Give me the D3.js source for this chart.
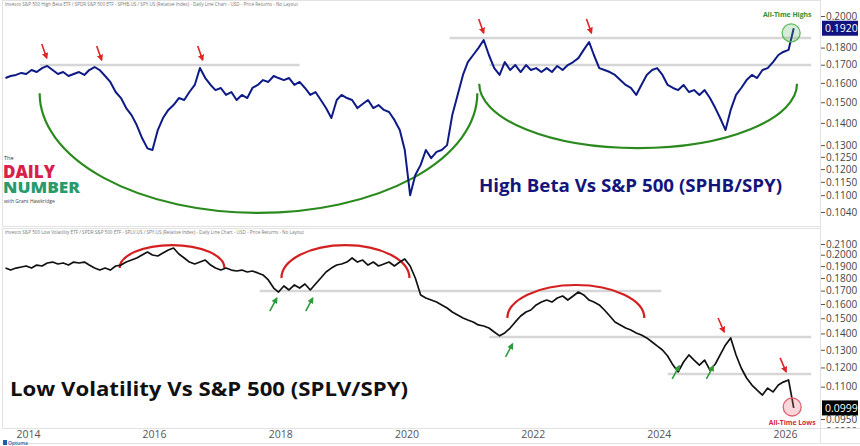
<!DOCTYPE html>
<html><head><meta charset="utf-8">
<script src="https://cdn.jsdelivr.net/npm/d3@7"></script>
<style>body{margin:0;background:#fff}svg{display:block;font-family:"Open Sans",sans-serif}</style>
</head><body><svg id="c" width="860" height="446"></svg>
<script>
// ---------- DATA ----------
const months = [
 "2013-11","2013-12",
 "2014-01","2014-02","2014-03","2014-04","2014-05","2014-06","2014-07","2014-08","2014-09","2014-10","2014-11","2014-12",
 "2015-01","2015-02","2015-03","2015-04","2015-05","2015-06","2015-07","2015-08","2015-09","2015-10","2015-11","2015-12",
 "2016-01","2016-02","2016-03","2016-04","2016-05","2016-06","2016-07","2016-08","2016-09","2016-10","2016-11","2016-12",
 "2017-01","2017-02","2017-03","2017-04","2017-05","2017-06","2017-07","2017-08","2017-09","2017-10","2017-11","2017-12",
 "2018-01","2018-02","2018-03","2018-04","2018-05","2018-06","2018-07","2018-08","2018-09","2018-10","2018-11","2018-12",
 "2019-01","2019-02","2019-03","2019-04","2019-05","2019-06","2019-07","2019-08","2019-09","2019-10","2019-11","2019-12",
 "2020-01","2020-02","2020-03","2020-04","2020-05","2020-06","2020-07","2020-08","2020-09","2020-10","2020-11","2020-12",
 "2021-01","2021-02","2021-03","2021-04","2021-05","2021-06","2021-07","2021-08","2021-09","2021-10","2021-11","2021-12",
 "2022-01","2022-02","2022-03","2022-04","2022-05","2022-06","2022-07","2022-08","2022-09","2022-10","2022-11","2022-12",
 "2023-01","2023-02","2023-03","2023-04","2023-05","2023-06","2023-07","2023-08","2023-09","2023-10","2023-11","2023-12",
 "2024-01","2024-02","2024-03","2024-04","2024-05","2024-06","2024-07","2024-08","2024-09","2024-10","2024-11","2024-12",
 "2025-01","2025-02","2025-03","2025-04","2025-05","2025-06","2025-07","2025-08","2025-09","2025-10","2025-11","2025-12",
 "2026-01","2026-02","2026-03","2026-04","2026-05"
];
// SPHB / SPY relative
const highBeta = [
 0.1626,0.1637,
 0.1643,0.1654,0.1648,0.1670,0.1659,0.1681,0.1693,0.1670,0.1648,0.1659,0.1637,0.1648,
 0.1659,0.1643,0.1670,0.1687,0.1670,0.1637,0.1605,0.1552,0.1521,0.1471,0.1437,0.1390,
 0.1331,0.1286,0.1279,0.1367,0.1423,0.1462,0.1486,0.1521,0.1511,0.1552,0.1589,0.1681,
 0.1626,0.1589,0.1562,0.1573,0.1537,0.1552,0.1511,0.1537,0.1521,0.1573,0.1589,0.1615,
 0.1605,0.1637,0.1626,0.1615,0.1626,0.1589,0.1605,0.1573,0.1537,0.1552,0.1511,0.1471,
 0.1423,0.1511,0.1537,0.1521,0.1511,0.1471,0.1491,0.1511,0.1471,0.1486,0.1462,0.1452,
 0.1414,0.1367,0.1279,0.1100,0.1177,0.1217,0.1279,0.1245,0.1271,0.1279,0.1300,0.1437,
 0.1537,0.1643,0.1715,0.1756,0.1797,0.1846,0.1756,0.1681,0.1643,0.1715,0.1670,0.1698,
 0.1659,0.1698,0.1670,0.1681,0.1659,0.1681,0.1659,0.1693,0.1670,0.1698,0.1715,0.1738,
 0.1786,0.1834,0.1756,0.1681,0.1670,0.1659,0.1643,0.1615,0.1589,0.1573,0.1537,0.1589,
 0.1643,0.1670,0.1681,0.1643,0.1589,0.1573,0.1562,0.1589,0.1552,0.1562,0.1537,0.1562,
 0.1521,0.1471,0.1423,0.1367,0.1462,0.1537,0.1573,0.1615,0.1643,0.1626,0.1670,0.1681,
 0.1715,0.1756,0.1774,0.1786,0.1920
];
// SPLV / SPY relative
const lowVol = [
 0.1883,0.1866,
 0.1883,0.1892,0.1901,0.1883,0.1909,0.1901,0.1927,0.1935,0.1918,0.1927,0.1909,0.1935,
 0.1927,0.1935,0.1909,0.1883,0.1866,0.1883,0.1866,0.1901,0.1909,0.1935,0.1953,0.1971,
 0.1998,0.2025,0.1998,0.1989,0.2016,0.2044,0.2062,0.2007,0.1971,0.1935,0.1918,0.1935,
 0.1953,0.1909,0.1883,0.1866,0.1883,0.1866,0.1858,0.1866,0.1850,0.1858,0.1842,0.1825,
 0.1784,0.1720,0.1689,0.1736,0.1705,0.1744,0.1720,0.1752,0.1705,0.1752,0.1800,0.1850,
 0.1883,0.1909,0.1918,0.1935,0.1971,0.1935,0.1953,0.1909,0.1935,0.1901,0.1918,0.1935,
 0.1901,0.1935,0.1962,0.1901,0.1800,0.1667,0.1644,0.1629,0.1614,0.1593,0.1571,0.1543,
 0.1522,0.1502,0.1488,0.1475,0.1455,0.1448,0.1435,0.1409,0.1385,0.1403,0.1435,0.1475,
 0.1515,0.1543,0.1557,0.1593,0.1614,0.1629,0.1614,0.1644,0.1659,0.1629,0.1659,0.1689,
 0.1667,0.1629,0.1614,0.1593,0.1557,0.1515,0.1475,0.1455,0.1435,0.1422,0.1403,0.1390,
 0.1372,0.1347,0.1323,0.1299,0.1264,0.1213,0.1176,0.1230,0.1270,0.1241,0.1213,0.1241,
 0.1186,0.1219,0.1270,0.1329,0.1372,0.1270,0.1197,0.1144,0.1108,0.1083,0.1059,0.1093,
 0.1074,0.1108,0.1123,0.1134,0.0999
];
const yearTicks = ["2014","2016","2018","2020","2022","2024","2026"];
const topTicks = [0.2,0.18,0.17,0.16,0.15,0.14,0.13,0.125,0.12,0.115,0.11,0.104];
const botTicks = [0.21,0.2,0.19,0.18,0.17,0.16,0.15,0.14,0.13,0.12,0.11,0.095,0.09];
const topLast = 0.1920, botLast = 0.0999;

// annotations (anchored in data space)
const topLevels = [["2020-11-15","2026-08-10",0.1858],["2014-05-18","2018-07-01",0.1698],["2021-07-04","2026-08-10",0.1698]];
const botLevels = [["2017-11-12","2024-03-25",0.1697],["2021-07-04","2026-08-10",0.1378],["2024-05-01","2026-08-10",0.1165]];
const topArcs = [["2014-05-18","2021-04-25",0.1545,0.1037],["2021-05-06","2026-05-20",0.1595,0.1287]];
const botArcs = [["2015-08-24","2017-04-22",0.1883,0.2090],["2018-03-18","2020-03-28",0.1800,0.2090],["2021-10-16","2023-12-18",0.1502,0.1744]];
const topArrows = [["2014-06-28",0.1738],["2015-05-12",0.1727],["2016-12-17",0.1727],["2021-06-01",0.1890],["2023-02-15",0.1890]];
const botGreenArrows = [["2018-02-19",0.1644],["2018-09-15",0.1644],["2021-11-15",0.1335],["2024-07-07",0.1208],["2025-01-21",0.1208]];
const botRedArrows = [["2025-03-24",0.1409],["2026-03-18",0.1176]];
const topCircle = ["2026-04-16",0.1890], botCircle = ["2026-04-22",0.1003];

// ---------- CHART ----------
const svg = d3.select("#c");
const pm = d3.utcParse("%Y-%m"), pd = d3.utcParse("%Y-%m-%d"), py = d3.utcParse("%Y");
const plotR = 820;
const x = d3.scaleUtc().domain([py("2014"), py("2026")]).range([16, 773]);
const yTop = d3.scaleLog().domain([0.104, 0.2]).range([212, 16]);
const yBot = d3.scaleLog().domain([0.095, 0.21]).range([419, 244]);

const defs = svg.append("defs");
defs.append("clipPath").attr("id","ct").append("rect").attr("x",3).attr("y",10).attr("width",plotR-3).attr("height",216);
defs.append("clipPath").attr("id","cb").append("rect").attr("x",3).attr("y",238).attr("width",plotR-3).attr("height",190);
defs.append("clipPath").attr("id","cab").append("rect").attr("x",plotR).attr("y",236).attr("width",40).attr("height",192);
function marker(id, col){
  defs.append("marker").attr("id",id).attr("viewBox","0 0 10 10").attr("refX",8).attr("refY",5)
    .attr("markerWidth",4).attr("markerHeight",4).attr("orient","auto")
    .append("path").attr("d","M0,0L10,5L0,10z").attr("fill",col);
}
marker("mr","#e02424"); marker("mg","#2e9a3a");

// frames
const fc = "#e2e2e2";
svg.append("rect").attr("x",2.5).attr("y",0.5).attr("width",plotR-2).attr("height",226).attr("fill","none").attr("stroke",fc);
svg.append("rect").attr("x",2.5).attr("y",228.5).attr("width",plotR-2).attr("height",200).attr("fill","none").attr("stroke",fc);
svg.append("line").attr("x1",2.5).attr("x2",860).attr("y1",428.5).attr("y2",428.5).attr("stroke",fc);
svg.append("line").attr("x1",2.5).attr("x2",860).attr("y1",443.5).attr("y2",443.5).attr("stroke",fc);
svg.append("line").attr("x1",plotR+0.5).attr("x2",plotR+0.5).attr("y1",0).attr("y2",443).attr("stroke",fc);

// headers
svg.append("text").attr("x",5).attr("y",6).attr("font-size",4.6).attr("fill","#777")
  .text("Invesco S&P 500 High Beta ETF / SPDR S&P 500 ETF - SPHB.US / SPY.US (Relative Index) - Daily Line Chart - USD - Price Returns - No Layout");
svg.append("text").attr("x",5).attr("y",234).attr("font-size",4.6).attr("fill","#777")
  .text("Invesco S&P 500 Low Volatility ETF / SPDR S&P 500 ETF - SPLV.US / SPY.US (Relative Index) - Daily Line Chart - USD - Price Returns - No Layout");

const gT = svg.append("g").attr("clip-path","url(#ct)");
const gB = svg.append("g").attr("clip-path","url(#cb)");

// level lines
function levels(g, arr, y){
  g.selectAll(null).data(arr).join("line")
   .attr("x1",d=>x(pd(d[0]))).attr("x2",d=>x(pd(d[1])))
   .attr("y1",d=>y(d[2])).attr("y2",d=>y(d[2]))
   .attr("stroke","#d6d6d6").attr("stroke-width",2.5);
}
levels(gT, topLevels, yTop); levels(gB, botLevels, yBot);

// arcs
function arcs(g, arr, y, col, down){
  g.selectAll(null).data(arr).join("path")
   .attr("d",d=>{const x1=x(pd(d[0])),x2=x(pd(d[1])),yb=y(d[2]),ye=y(d[3]);
      const rx=(x2-x1)/2, ry=Math.abs(ye-yb);
      return `M${x1},${yb}A${rx},${ry} 0 0 ${down?0:1} ${x2},${yb}`;})
   .attr("fill","none").attr("stroke",col).attr("stroke-width",2.2);
}
arcs(gT, topArcs, yTop, "#2b8a1e", true);
arcs(gB, botArcs, yBot, "#d42020", false);

// series
const topData = months.map((m,i)=>({d:pm(m),v:highBeta[i]}));
const botData = months.map((m,i)=>({d:pm(m),v:lowVol[i]}));
gT.append("path").datum(topData).attr("fill","none").attr("stroke","#0e1a86").attr("stroke-width",2)
  .attr("stroke-linejoin","round").attr("d",d3.line().x(d=>x(d.d)).y(d=>yTop(d.v)));
gB.append("path").datum(botData).attr("fill","none").attr("stroke","#111").attr("stroke-width",1.7)
  .attr("stroke-linejoin","round").attr("d",d3.line().x(d=>x(d.d)).y(d=>yBot(d.v)));

// arrows
function arrows(g, arr, y, col, mk, dx, dy){
  g.selectAll(null).data(arr).join("line")
   .attr("x1",d=>x(pd(d[0]))+dx).attr("y1",d=>y(d[1])+dy)
   .attr("x2",d=>x(pd(d[0]))).attr("y2",d=>y(d[1]))
   .attr("stroke",col).attr("stroke-width",1.6).attr("marker-end",`url(#${mk})`);
}
arrows(svg, topArrows, yTop, "#e02424", "mr", -5, -14);
arrows(svg, botGreenArrows, yBot, "#2e9a3a", "mg", -7, 13);
arrows(svg, botRedArrows, yBot, "#e02424", "mr", -6, -14);

// circles + labels
svg.append("circle").attr("cx",x(pd(topCircle[0]))).attr("cy",yTop(topCircle[1])).attr("r",9)
  .attr("fill","rgba(90,180,90,0.25)").attr("stroke","#5cb85c").attr("stroke-width",1.3);
svg.append("text").attr("x",x(pd(topCircle[0]))-4).attr("y",17).attr("text-anchor","middle")
  .attr("font-size",6.8).attr("font-weight",700).attr("fill","#2f8f2f").text("All-Time Highs");
svg.append("circle").attr("cx",x(pd(botCircle[0]))).attr("cy",yBot(botCircle[1])).attr("r",9)
  .attr("fill","rgba(235,90,110,0.25)").attr("stroke","#e06070").attr("stroke-width",1.3);
svg.append("text").attr("x",x(pd(botCircle[0]))).attr("y",425).attr("text-anchor","middle")
  .attr("font-size",6.8).attr("font-weight",700).attr("fill","#d42a3a").text("All-Time Lows");

// titles
svg.append("text").attr("x",479).attr("y",192).attr("font-size",18).attr("font-weight",700)
  .attr("fill","#14157a").attr("textLength",303).attr("lengthAdjust","spacingAndGlyphs")
  .text("High Beta Vs S&P 500 (SPHB/SPY)");
svg.append("text").attr("x",10).attr("y",396).attr("font-size",20).attr("font-weight",700)
  .attr("fill","#111").attr("textLength",398).attr("lengthAdjust","spacingAndGlyphs")
  .text("Low Volatility Vs S&P 500 (SPLV/SPY)");

// logo
const lg = svg.append("g");
lg.append("text").attr("x",4).attr("y",160).attr("font-size",5.5).attr("fill","#333").text("The");
lg.append("text").attr("x",3).attr("y",178).attr("font-size",17).attr("font-weight",800).attr("fill","#d8214a")
  .attr("textLength",52).attr("lengthAdjust","spacingAndGlyphs").text("DAILY");
lg.append("text").attr("x",3).attr("y",193).attr("font-size",15.5).attr("font-weight",800).attr("fill","#2a9a6c")
  .attr("textLength",77).attr("lengthAdjust","spacingAndGlyphs").text("NUMBER");
lg.append("text").attr("x",4).attr("y",203).attr("font-size",5).attr("fill","#444").text("with Grant Hawkridge");

// right axes
function rAxis(y, ticks, clipId){
  const outer = svg.append("g");
  if (clipId) outer.attr("clip-path",`url(#${clipId})`);
  const g = outer.append("g").attr("transform",`translate(${plotR+1},0)`)
    .call(d3.axisRight(y).tickValues(ticks).tickFormat(d3.format(".4f")).tickSize(4).tickPadding(1));
  g.select(".domain").remove();
  g.selectAll(".tick line").attr("stroke","#555");
  g.selectAll(".tick text").attr("font-size",10).attr("fill","#444").attr("font-family","Open Sans, sans-serif");
  return g;
}
rAxis(yTop, topTicks, null);
rAxis(yBot, botTicks, "cab");
function lastBox(y, v, col){
  const yy = y(v);
  svg.append("rect").attr("x",plotR+2).attr("y",yy-7.5).attr("width",36).attr("height",15).attr("fill",col);
  svg.append("text").attr("x",plotR+5).attr("y",yy+3.6).attr("font-size",10.5).attr("fill","#fff").text(d3.format(".4f")(v));
}
lastBox(yTop, topLast, "#12137e");
lastBox(yBot, botLast, "#000");

// x axis
const gx = svg.append("g").attr("transform","translate(0,428)")
  .call(d3.axisBottom(x).tickValues(yearTicks.map(py)).tickFormat(d3.utcFormat("%Y")).tickSize(0).tickPadding(3));
gx.select(".domain").remove();
gx.selectAll(".tick text").attr("text-anchor","start").attr("font-size",10.5).attr("fill","#555")
  .attr("font-family","Open Sans, sans-serif");

// Optuma mark
svg.append("rect").attr("x",3).attr("y",440).attr("width",4).attr("height",5).attr("fill","#1f5ea8");
svg.append("text").attr("x",8).attr("y",445).attr("font-size",5).attr("font-weight",600).attr("fill","#1f5ea8").text("Optuma");
</script></body></html>
